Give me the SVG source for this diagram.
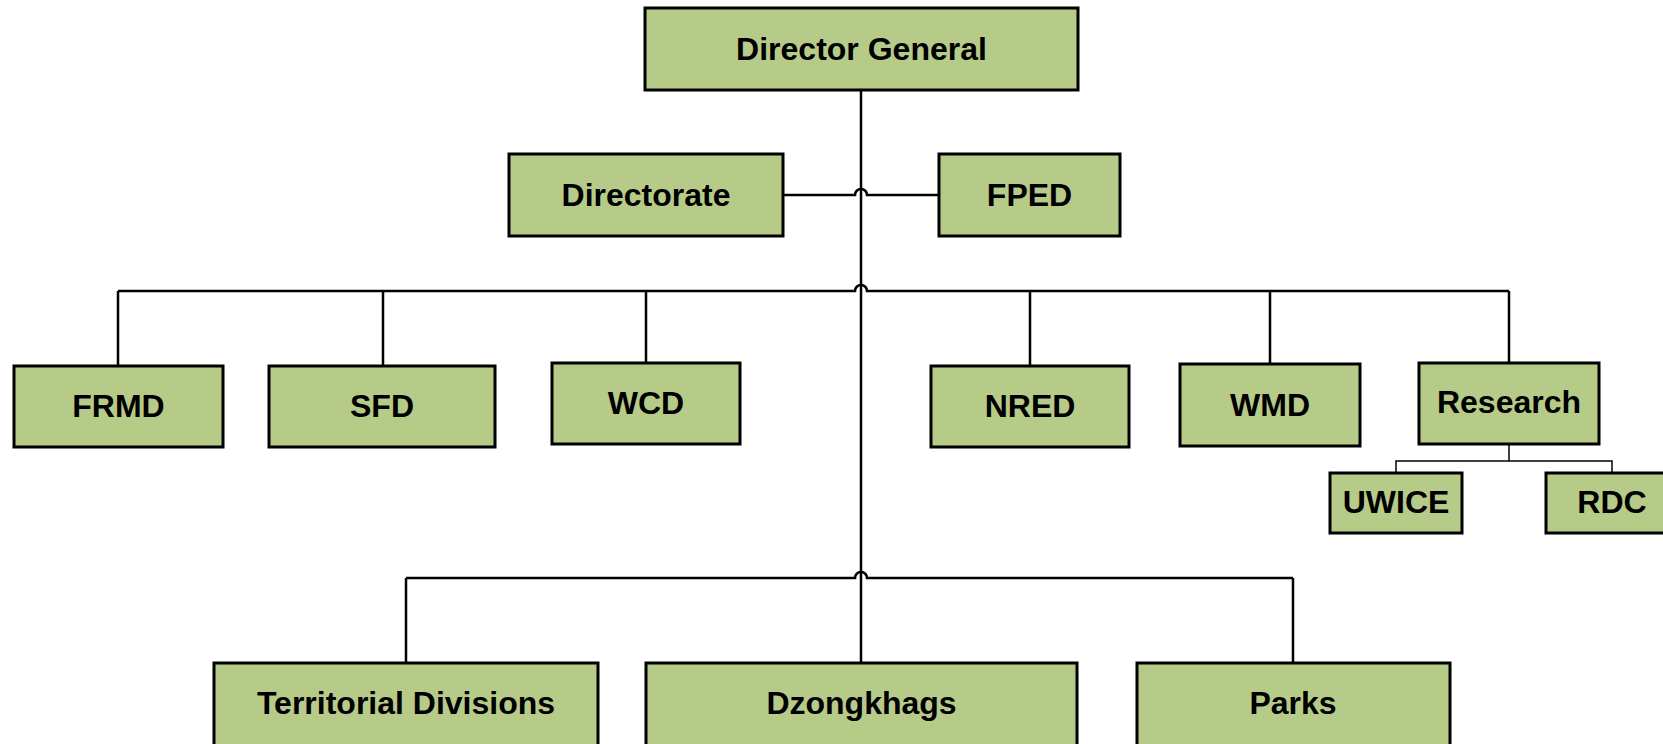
<svg xmlns="http://www.w3.org/2000/svg" width="1663" height="744" viewBox="0 0 1663 744">
<style>
.box{fill:#B7CB89;stroke:#000;stroke-width:3}
.lbl{font-family:"Liberation Sans",Arial,sans-serif;font-weight:bold;font-size:32px;fill:#000;text-anchor:middle}
.ln{fill:none;stroke:#000;stroke-width:2.5}
.thin{fill:none;stroke:#000;stroke-width:1.5}
</style>
<rect width="1663" height="744" fill="#fff"/>
<g id="connectors">
<path class="ln" d="M861,90 V663"/>
<path class="ln" d="M783,195 H855 a6,6 0 0 1 12,0 H939"/>
<path class="ln" d="M118,291 H855 a6,6 0 0 1 12,0 H1509"/>
<path class="ln" d="M118,291 V366 M383,291 V366 M646,291 V363 M1030,291 V366 M1270,291 V364 M1509,291 V363"/>
<path class="ln" d="M406,578 H855 a6,6 0 0 1 12,0 H1293"/>
<path class="ln" d="M406,578 V663 M1293,578 V663"/>
<path class="thin" d="M1509,444 V461 M1396,473 V461 H1612 V473"/>
</g>
<g id="dg"><rect class="box" x="645" y="8" width="433" height="82"/><text class="lbl" x="861.5" y="59.5">Director General</text></g>
<g id="directorate"><rect class="box" x="509" y="154" width="274" height="82"/><text class="lbl" x="646" y="205.5">Directorate</text></g>
<g id="fped"><rect class="box" x="939" y="154" width="181" height="82"/><text class="lbl" x="1029.5" y="205.5">FPED</text></g>
<g id="frmd"><rect class="box" x="14" y="366" width="209" height="81"/><text class="lbl" x="118.5" y="416.5">FRMD</text></g>
<g id="sfd"><rect class="box" x="269" y="366" width="226" height="81"/><text class="lbl" x="382" y="416.5">SFD</text></g>
<g id="wcd"><rect class="box" x="552" y="363" width="188" height="81"/><text class="lbl" x="646" y="413.5">WCD</text></g>
<g id="nred"><rect class="box" x="931" y="366" width="198" height="81"/><text class="lbl" x="1030" y="416.5">NRED</text></g>
<g id="wmd"><rect class="box" x="1180" y="364" width="180" height="82"/><text class="lbl" x="1270" y="415.5">WMD</text></g>
<g id="research"><rect class="box" x="1419" y="363" width="180" height="81"/><text class="lbl" x="1509" y="413">Research</text></g>
<g id="uwice"><rect class="box" x="1330" y="473" width="132" height="60"/><text class="lbl" x="1396" y="513">UWICE</text></g>
<g id="rdc"><rect class="box" x="1546" y="473" width="132" height="60"/><text class="lbl" x="1612" y="513">RDC</text></g>
<g id="territorial"><rect class="box" x="214" y="663" width="384" height="100"/><text class="lbl" x="406" y="713.5">Territorial Divisions</text></g>
<g id="dzongkhags"><rect class="box" x="646" y="663" width="431" height="100"/><text class="lbl" x="861.5" y="713.5">Dzongkhags</text></g>
<g id="parks"><rect class="box" x="1137" y="663" width="313" height="100"/><text class="lbl" x="1293" y="713.5">Parks</text></g>
</svg>
